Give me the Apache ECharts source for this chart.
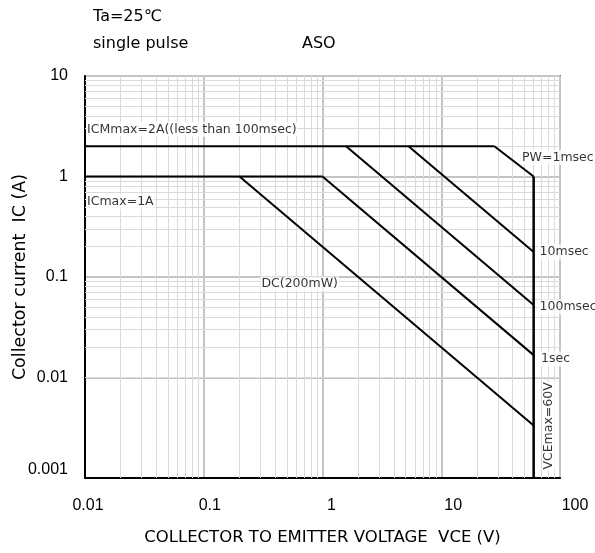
<!DOCTYPE html>
<html>
<head>
<meta charset="utf-8">
<script src="https://cdn.jsdelivr.net/npm/echarts@6/dist/echarts.min.js"></script>
<style>
  html, body { margin: 0; padding: 0; background: #fff; }
  #chart { width: 595px; height: 553px; }
</style>
</head>
<body>
<div id="chart"></div>
<script>
// tick labels
const xTicks = ['0.01', '0.1', '1', '10', '100'];
const yTicks = ['0.001', '0.01', '0.1', '1', '10'];

// limit curves [VCE, IC]
const icmMax2A = [[0.01, 2], [28, 2]];
const icMax1A = [[0.01, 1], [1, 1]];
const pw1ms = [[28, 2], [60, 1]];
const pw10ms = [[5.3, 2], [60, 0.177]];
const pw100ms = [[1.58, 2], [60, 0.0527]];
const pw1s = [[1, 1], [60, 0.0167]];
const dc200mW = [[0.2, 1], [60, 0.00333]];
const vceMax = [[60, 1], [60, 0.001]];

// minor grid values
const minorSteps = [2, 3, 4, 5, 6, 7, 8, 9];
const xDecades = [0.01, 0.1, 1, 10];
const yDecades = [0.001, 0.01, 0.1, 1];

// in-plot labels [VCE, IC, text]
const curveLabels = [
    [0.0102, 2.95, 'ICMmax=2A((less than 100msec)'],
    [0.0102, 0.56, 'ICmax=1A'],
    [0.3, 0.085, 'DC(200mW)'],
    [47, 1.55, 'PW=1msec'],
    [66, 0.177, '10msec'],
    [66, 0.0503, '100msec'],
    [68, 0.0153, '1sec']
];
const vceLabel = [81, 0.0033, 'VCEmax=60V'];

const font = 'DejaVu Sans';
const tickFont = 'Liberation Sans';

const minorX = [];
xDecades.forEach(d => minorSteps.forEach(s => minorX.push({ xAxis: +(d * s).toPrecision(3) })));
const minorY = [];
yDecades.forEach(d => minorSteps.forEach(s => minorY.push({ yAxis: +(d * s).toPrecision(3) })));

// the original's x labels drift a little to the right of their grid lines
const xRich = {};
xTicks.forEach((t, i) => {
    xRich['x' + i] = { fontSize: 16, color: '#000', fontFamily: tickFont, padding: [0, 0, 0, 6 + 6 * i] };
});

function curve(data, width) {
    return {
        type: 'line',
        data: data,
        showSymbol: false,
        symbol: 'none',
        silent: true,
        z: 5,
        lineStyle: { color: '#000', width: width || 2 }
    };
}

const chart = echarts.init(document.getElementById('chart'));
chart.setOption({
    animation: false,
    backgroundColor: '#fff',
    textStyle: { fontFamily: font },
    grid: {
        left: 85, right: 35, top: 76, bottom: 75,
        outerBoundsMode: 'none', containLabel: false,
        show: true, borderColor: '#000', borderWidth: 1.5
    },
    graphic: [
        { type: 'text', left: 93, top: 9, style: { text: 'Ta=25℃', font: '16px "' + font + '"', fill: '#000' } },
        { type: 'text', left: 93, top: 36, style: { text: 'single pulse', font: '16px "' + font + '"', fill: '#000' } },
        { type: 'text', left: 302, top: 36, style: { text: 'ASO', font: '16px "' + font + '"', fill: '#000' } }
    ],
    xAxis: {
        type: 'log', logBase: 10, min: 0.01, max: 100,
        name: 'COLLECTOR TO EMITTER VOLTAGE  VCE (V)',
        nameLocation: 'middle', nameGap: 51, nameMoveOverlap: false,
        nameTextStyle: { fontSize: 16.5, color: '#000', fontFamily: font },
        axisLine: { lineStyle: { color: '#000', width: 2 } },
        axisTick: { show: false },
        axisLabel: {
            margin: 20, fontSize: 16, color: '#000', fontFamily: tickFont,
            formatter: v => {
                const i = Math.round(Math.log10(v)) + 2;
                return '{x' + i + '|' + xTicks[i] + '}';
            },
            rich: xRich
        },
        splitLine: { show: true, lineStyle: { color: '#c4c4c4', width: 2 } }
    },
    yAxis: {
        type: 'log', logBase: 10, min: 0.001, max: 10,
        name: 'Collector current  IC (A)',
        nameLocation: 'middle', nameGap: 56, nameMoveOverlap: false,
        nameTextStyle: { fontSize: 17.5, color: '#000', fontFamily: font },
        axisLine: { lineStyle: { color: '#000', width: 2 } },
        axisTick: { show: false },
        axisLabel: {
            margin: 17, fontSize: 16, color: '#000', fontFamily: tickFont,
            formatter: v => {
                const i = Math.round(Math.log10(v)) + 3;
                return i === 0 ? '{low|' + yTicks[i] + '}' : yTicks[i];
            },
            rich: { low: { fontSize: 16, color: '#000', fontFamily: tickFont, padding: [0, 0, 16, 0] } }
        },
        splitLine: { show: true, lineStyle: { color: '#c4c4c4', width: 2 } }
    },
    series: [
        {
            type: 'line', data: [], silent: true, z: 1,
            markLine: {
                silent: true, symbol: ['none', 'none'], label: { show: false },
                lineStyle: { color: '#dadada', width: 1, type: 'solid' },
                data: minorX.concat(minorY)
            }
        },
        curve(icmMax2A),
        curve(icMax1A),
        curve(pw1ms),
        curve(pw10ms),
        curve(pw100ms),
        curve(pw1s),
        curve(dc200mW),
        curve(vceMax, 2.5),
        {
            type: 'scatter', silent: true, z: 6, symbolSize: 0,
            data: curveLabels.map(d => ({ value: [d[0], d[1]], name: d[2] })),
            label: {
                show: true, position: 'right', distance: 0,
                formatter: p => p.name,
                fontSize: 12.5, color: '#000', fontFamily: font,
                backgroundColor: '#fff', padding: [1, 1]
            }
        },
        {
            type: 'scatter', silent: true, z: 6, symbolSize: 0,
            data: [{ value: [vceLabel[0], vceLabel[1]], name: vceLabel[2] }],
            label: {
                show: true, position: 'inside', rotate: 90,
                formatter: p => p.name,
                fontSize: 12.5, color: '#000', fontFamily: font,
                backgroundColor: '#fff', padding: [0, 1]
            }
        }
    ]
});
</script>
</body>
</html>
